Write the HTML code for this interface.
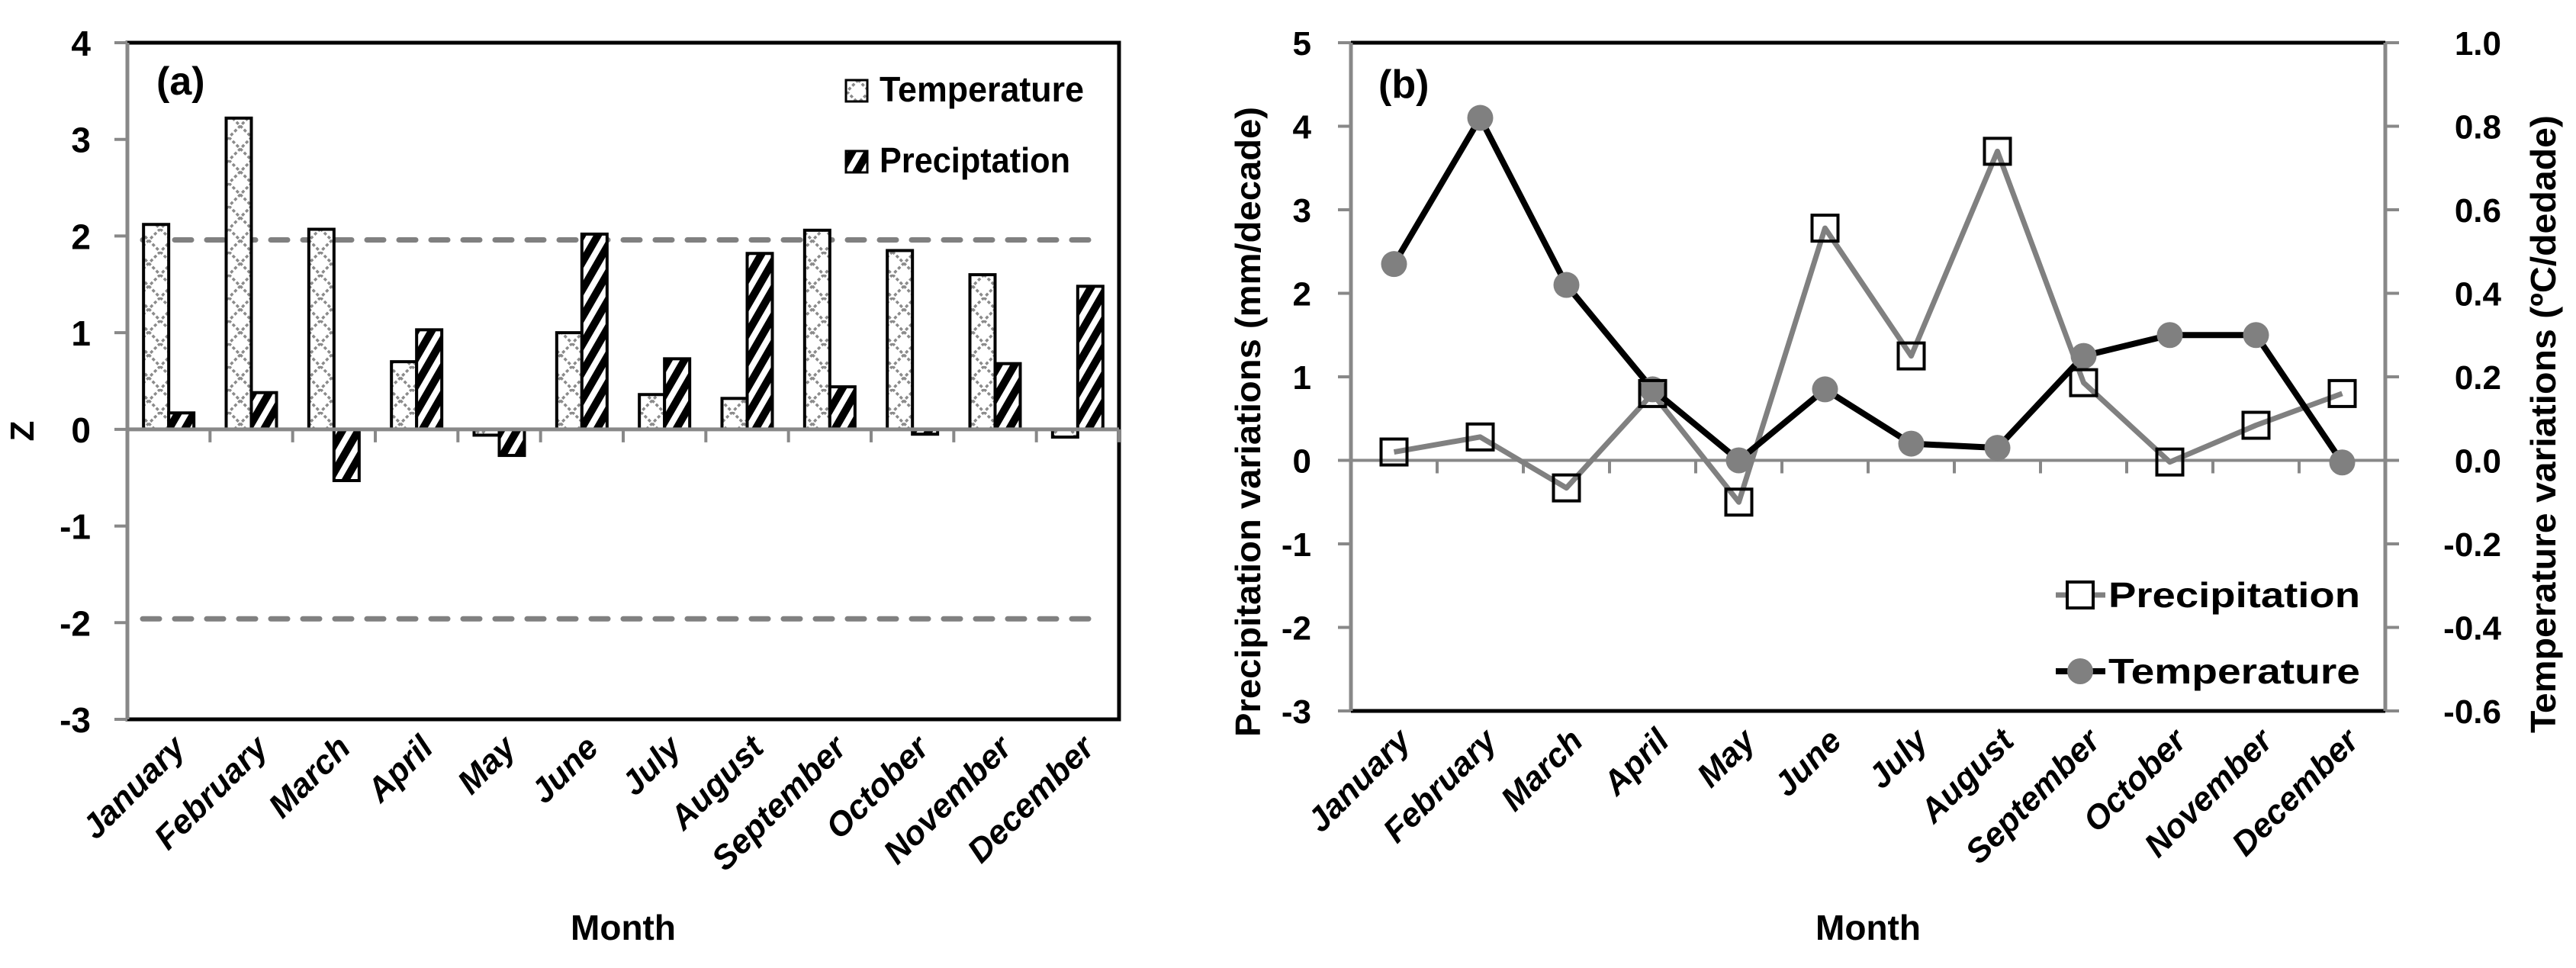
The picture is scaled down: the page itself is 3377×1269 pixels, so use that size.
<!DOCTYPE html>
<html><head><meta charset="utf-8"><style>
html,body{margin:0;padding:0;background:#fff}
svg text{font-family:"Liberation Sans",sans-serif;font-weight:bold;fill:#000}
</style></head><body>
<svg id="chart" width="3377" height="1264" viewBox="0 0 3377 1264" xmlns="http://www.w3.org/2000/svg">
<defs>
<pattern id="pTemp" patternUnits="userSpaceOnUse" width="30" height="30">
<rect width="30" height="30" fill="#fff"/>
<path d="M0,0 L30,30 M30,0 L0,30" stroke="#8a8a8a" stroke-width="3.5" stroke-dasharray="4,3"/>
</pattern>
<pattern id="pPrec" patternUnits="userSpaceOnUse" width="18" height="18" patternTransform="rotate(30)">
<rect width="18" height="18" fill="#fff"/>
<rect width="10" height="18" fill="#000"/>
</pattern>
</defs>
<g id="panelA"></g>
<g id="panelB"></g>
</svg>
<script>
const months=["January","February","March","April","May","June","July","August","September","October","November","December"];
const zTemp=[2.12,3.22,2.07,0.70,-0.06,1.00,0.36,0.32,2.06,1.85,1.60,-0.08];
const zPrec=[0.17,0.38,-0.53,1.03,-0.27,2.02,0.73,1.82,0.44,-0.05,0.68,1.48];
const zTicks=[4,3,2,1,0,-1,-2,-3];
const sigLevels=[1.96,-1.96];
const bPrec=[0.10,0.28,-0.33,0.80,-0.50,2.78,1.25,3.70,0.93,-0.02,0.42,0.80];
const bTemp=[0.47,0.82,0.42,0.17,0.00,0.17,0.04,0.03,0.25,0.30,0.30,-0.005];
const bLeftTicks=[5,4,3,2,1,0,-1,-2,-3];
const bRightTicks=["1.0","0.8","0.6","0.4","0.2","0.0","-0.2","-0.4","-0.6"];

const NS="http://www.w3.org/2000/svg";
function mk(parent,tag,attrs,txt){const e=document.createElementNS(NS,tag);for(const k in attrs)e.setAttribute(k,attrs[k]);if(txt!==undefined)e.textContent=txt;parent.appendChild(e);return e;}

// ---------- Panel A ----------
const A=document.getElementById('panelA');
const aL=167,aR=1467,aT=56,aB=943,aMin=-3,aMax=4;
const ay=v=>aB-(v-aMin)/(aMax-aMin)*(aB-aT);
const aBand=(aR-aL)/12;
const ax=i=>aL+aBand*(i+0.5);
let e;
e=mk(A,'rect',{x:aL,y:aT,width:aR-aL,height:aB-aT,fill:'none',stroke:'#000','stroke-width':5});


zTicks.forEach(t=>{
 e=mk(A,'line',{x1:aL-17,x2:aL,y1:ay(t),y2:ay(t),stroke:'#888','stroke-width':4});
 
 
 e=mk(A,'text',{x:aL-48,y:ay(t)+17,'text-anchor':'end','font-size':46},String(t));
 
 
});
e=mk(A,'line',{x1:aL,x2:aL,y1:aT,y2:aB,stroke:'#888','stroke-width':5});


sigLevels.forEach(s=>{
 e=mk(A,'line',{x1:aL+20,x2:aR-40,y1:ay(s),y2:ay(s),stroke:'#808080','stroke-width':7,'stroke-dasharray':'22,20','stroke-linecap':'round'});
 
 
});
const bw=33;
months.forEach((m,i)=>{
 const c=ax(i);
 const y0=ay(0);
 let v=zTemp[i];
 e=mk(A,'rect',{x:c-bw,y:Math.min(ay(v),y0),width:bw,height:Math.abs(ay(v)-y0),fill:'url(#pTemp)',stroke:'#000','stroke-width':4});
 
 
 v=zPrec[i];
 e=mk(A,'rect',{x:c,y:Math.min(ay(v),y0),width:bw,height:Math.abs(ay(v)-y0),fill:'url(#pPrec)',stroke:'#000','stroke-width':4});
 
 
 e=mk(A,'text',{'text-anchor':'end','font-size':44,'font-style':'italic',transform:`translate(${c+24},${aB+40}) rotate(-45)`},m);
 
 
});
e=mk(A,'line',{x1:aL,x2:aR,y1:ay(0),y2:ay(0),stroke:'#888','stroke-width':5});


for(let i=1;i<=12;i++){
 e=mk(A,'line',{x1:aL+aBand*i,x2:aL+aBand*i,y1:ay(0),y2:ay(0)+17,stroke:'#888','stroke-width':4});
 
 
}
e=mk(A,'text',{x:205,y:124,'font-size':52},'(a)');


e=mk(A,'text',{'text-anchor':'middle','font-size':44,transform:'translate(44,565) rotate(-90)'},'Z');


e=mk(A,'text',{x:817,y:1232,'text-anchor':'middle','font-size':46},'Month');


e=mk(A,'rect',{x:1109,y:105,width:28,height:28,fill:'url(#pTemp)',stroke:'#000','stroke-width':3});


e=mk(A,'text',{x:1153,y:133,'font-size':46,textLength:268,lengthAdjust:'spacingAndGlyphs'},'Temperature');


e=mk(A,'rect',{x:1109,y:198,width:28,height:28,fill:'url(#pPrec)',stroke:'#000','stroke-width':3});


e=mk(A,'text',{x:1153,y:226,'font-size':46,textLength:250,lengthAdjust:'spacingAndGlyphs'},'Preciptation');



// ---------- Panel B ----------
const B=document.getElementById('panelB');
const bL=1771,bR=3127,bT=56,bB=932;
const byL=v=>bB-(v-(-3))/8*(bB-bT);
const byR=v=>bB-(v-(-0.6))/1.6*(bB-bT);
const bBand=(bR-bL)/12;
const bx=i=>bL+bBand*(i+0.5);
e=mk(B,'line',{x1:bL,x2:bR,y1:bT,y2:bT,stroke:'#000','stroke-width':5});


e=mk(B,'line',{x1:bL,x2:bR,y1:bB,y2:bB,stroke:'#000','stroke-width':5});


bLeftTicks.forEach(t=>{
 e=mk(B,'line',{x1:bL-17,x2:bL,y1:byL(t),y2:byL(t),stroke:'#888','stroke-width':4});
 
 
 e=mk(B,'text',{x:bL-52,y:byL(t)+16,'text-anchor':'end','font-size':44},String(t));
 
 
});
bRightTicks.forEach(t=>{
 const v=parseFloat(t);
 e=mk(B,'line',{x1:bR,x2:bR+18,y1:byR(v),y2:byR(v),stroke:'#888','stroke-width':4});
 
 
 e=mk(B,'text',{x:bR+152,y:byR(v)+16,'text-anchor':'end','font-size':44},t);
 
 
});
e=mk(B,'line',{x1:bL,x2:bL,y1:bT,y2:bB,stroke:'#888','stroke-width':5});


e=mk(B,'line',{x1:bR,x2:bR,y1:bT,y2:bB,stroke:'#888','stroke-width':5});


e=mk(B,'line',{x1:bL,x2:bR,y1:byL(0),y2:byL(0),stroke:'#888','stroke-width':4});


for(let i=1;i<=12;i++){
 e=mk(B,'line',{x1:bL+bBand*i,x2:bL+bBand*i,y1:byL(0),y2:byL(0)+17,stroke:'#888','stroke-width':4});
 
 
}
months.forEach((m,i)=>{
 e=mk(B,'text',{'text-anchor':'end','font-size':44,'font-style':'italic',transform:`translate(${bx(i)+24},${bB+42}) rotate(-45)`},m);
 
 
});
e=mk(B,'polyline',{points:bPrec.map((v,i)=>bx(i)+','+byL(v)).join(' '),fill:'none',stroke:'#808080','stroke-width':7,'stroke-linejoin':'round'});


e=mk(B,'polyline',{points:bTemp.map((v,i)=>bx(i)+','+byR(v)).join(' '),fill:'none',stroke:'#000','stroke-width':8,'stroke-linejoin':'round'});


bTemp.forEach((v,i)=>{
 e=mk(B,'circle',{cx:bx(i),cy:byR(v),r:17,fill:'#808080'});
 
 
});
bPrec.forEach((v,i)=>{
 e=mk(B,'rect',{x:bx(i)-17,y:byL(v)-17,width:34,height:34,fill:'none',stroke:'#000','stroke-width':4});
 
 
});
e=mk(B,'text',{x:1807,y:128,'font-size':52},'(b)');


e=mk(B,'text',{'text-anchor':'middle','font-size':46,textLength:826,lengthAdjust:'spacingAndGlyphs',transform:'translate(1652,553) rotate(-90)'},'Precipitation variations (mm/decade)');


e=mk(B,'text',{'text-anchor':'middle','font-size':46,textLength:810,lengthAdjust:'spacingAndGlyphs',transform:'translate(3350,556) rotate(-90)'},'Temperature variations (ºC/dedade)');


e=mk(B,'text',{x:2449,y:1232,'text-anchor':'middle','font-size':46},'Month');


e=mk(B,'line',{x1:2695,x2:2760,y1:780,y2:780,stroke:'#808080','stroke-width':7});


e=mk(B,'rect',{x:2710,y:763,width:34,height:34,fill:'#fff',stroke:'#000','stroke-width':4});


e=mk(B,'text',{x:2764,y:796,'font-size':46,textLength:330,lengthAdjust:'spacingAndGlyphs'},'Precipitation');


e=mk(B,'line',{x1:2695,x2:2760,y1:880,y2:880,stroke:'#000','stroke-width':8});


e=mk(B,'circle',{cx:2727,cy:880,r:17,fill:'#808080'});


e=mk(B,'text',{x:2764,y:896,'font-size':46,textLength:330,lengthAdjust:'spacingAndGlyphs'},'Temperature');


</script>
</body></html>
